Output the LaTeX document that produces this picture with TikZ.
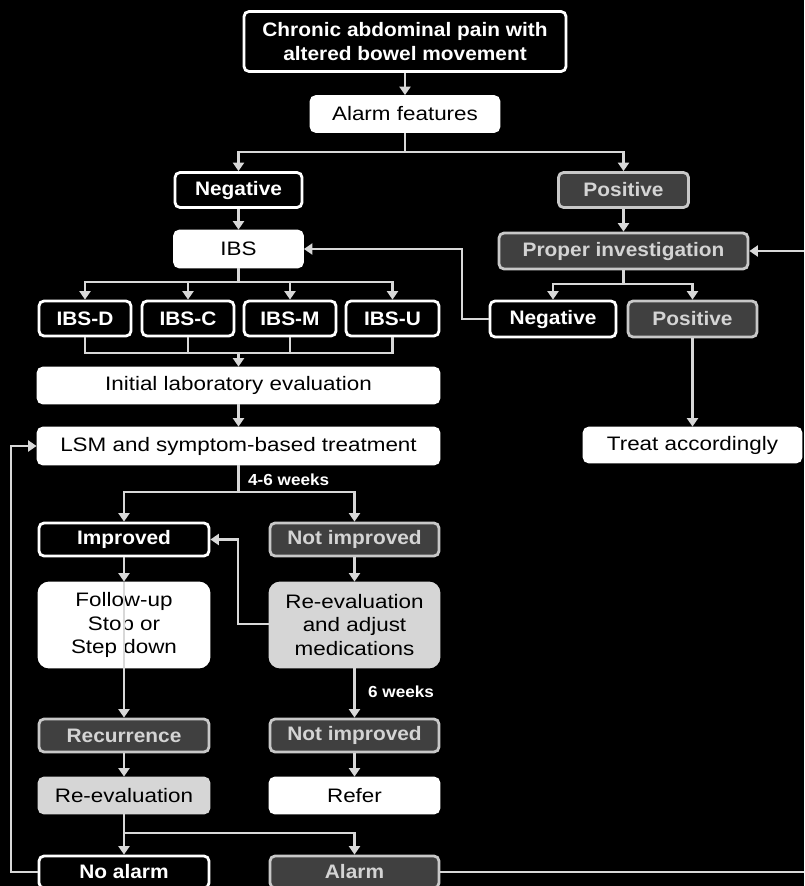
\documentclass[tikz,border=0pt]{standalone}
\usepackage{fontspec}
\setmainfont[FakeStretch=1.15]{Liberation Sans}
\newfontfamily\bfam[FakeStretch=1.07]{Liberation Sans}
\usetikzlibrary{arrows.meta}
\definecolor{lineC}{HTML}{D8D8D8}
\definecolor{darkF}{HTML}{404040}
\definecolor{darkB}{HTML}{C8C8C8}
\definecolor{darkT}{HTML}{D4D4D4}
\definecolor{lightF}{HTML}{D6D6D6}
\tikzset{
  box/.style={rectangle, rounded corners=5pt, line width=2.8pt, inner sep=0pt, align=center},
  blk/.style={box, draw=white, fill=black, text=white, font=\bfam\bfseries\fontsize{19.5}{23.5}\selectfont},
  dk/.style={box, draw=darkB, fill=darkF, text=darkT, font=\bfam\bfseries\fontsize{19.5}{23.5}\selectfont},
  wht/.style={box, draw=white, fill=white, text=black, font=\fontsize{19.5}{23.5}\selectfont},
  lgt/.style={box, draw=lightF, fill=lightF, text=black, font=\fontsize{19.5}{23.5}\selectfont},
  ln/.style={draw=lineC, line width=2.9pt},
  arr/.style={ln, -{Triangle[length=8.5pt,width=11pt]}},
  lbl/.style={text=white, font=\bfam\bfseries\fontsize{16}{19}\selectfont, inner sep=0pt}
}
\begin{document}
\begin{tikzpicture}[x=1pt,y=-1pt]
\fill[black] (0,0) rectangle (804,886);
\useasboundingbox (0,0) rectangle (804,886);

% nodes
\node[blk, minimum width=322pt, minimum height=60pt] (top) at (405,41.5) {Chronic abdominal pain with\\altered bowel movement};
\node[wht, minimum width=188pt, minimum height=35pt] (alarm) at (405,114) {Alarm features};
\node[blk, minimum width=127pt, minimum height=35pt] (neg1) at (238.5,190) {Negative};
\node[dk, minimum width=130pt, minimum height=35pt] (pos1) at (623.5,190) {Positive};
\node[wht, minimum width=128pt, minimum height=36pt] (ibs) at (238.5,249) {IBS};
\node[dk, minimum width=249pt, minimum height=36pt] (pinv) at (623.5,251) {Proper investigation};
\node[blk, minimum width=126pt, minimum height=36pt] (neg2) at (553,319) {Negative};
\node[dk, minimum width=129pt, minimum height=36pt] (pos2) at (692.5,319) {Positive};
\node[blk, minimum width=92pt, minimum height=35pt] (ibsD) at (85,318.5) {IBS-D};
\node[blk, minimum width=92pt, minimum height=35pt] (ibsC) at (188,318.5) {IBS-C};
\node[blk, minimum width=92pt, minimum height=35pt] (ibsM) at (290,318.5) {IBS-M};
\node[blk, minimum width=93pt, minimum height=35pt] (ibsU) at (392.5,318.5) {IBS-U};
\node[wht, minimum width=401pt, minimum height=35pt] (lab) at (238.5,385.5) {Initial laboratory evaluation};
\node[wht, minimum width=401pt, minimum height=36pt] (lsm) at (238.5,446) {LSM and symptom-based treatment};
\node[wht, minimum width=217pt, minimum height=34pt] (treat) at (692.5,445) {Treat accordingly};
\node[blk, minimum width=170pt, minimum height=33pt] (impr) at (124,539.5) {Improved};
\node[dk, minimum width=169pt, minimum height=33pt] (notimp) at (354.5,539.5) {Not improved};
\node[wht, rounded corners=10pt, minimum width=170pt, minimum height=84pt] (follow) at (124,625) {Follow-up\\Stop or\\Step down};
\node[lgt, rounded corners=10pt, minimum width=169pt, minimum height=84pt] (radj) at (354.5,625) {Re-evaluation\\and adjust\\medications};
\node[dk, minimum width=170pt, minimum height=33pt] (rec) at (124,735.5) {Recurrence};
\node[dk, minimum width=169pt, minimum height=33pt] (notimp2) at (354.5,735.5) {Not improved};
\node[lgt, minimum width=170pt, minimum height=35pt] (reev) at (124,795.5) {Re-evaluation};
\node[wht, minimum width=169pt, minimum height=35pt] (refer) at (354.5,795.5) {Refer};
\node[blk, minimum width=170pt, minimum height=32pt] (noal) at (124,872) {No alarm};
\node[dk, minimum width=169pt, minimum height=32pt] (al) at (354.5,872) {Alarm};

\node[lbl, anchor=west] (w46) at (248,480) {4-6 weeks};
\node[lbl, anchor=west] (w6) at (368,692) {6 weeks};

% coordinates
\coordinate (b1) at (405,152);
\coordinate (b2) at (623.5,284);
\coordinate (ib) at (238.5,282);
\coordinate (mrg) at (238.5,353);
\coordinate (b3) at (238.5,492);
\coordinate (b4) at (124,833);
\coordinate (nl) at (238,624);
\coordinate (lx) at (11,872);
\coordinate (ly) at (11,446);
\coordinate (rA) at (804,872);
\coordinate (rB) at (804,251);
\coordinate (nx) at (462,319);

% connectors
\draw[arr] (top.south) -- (alarm.north);
\draw[ln] (alarm.south) -- (b1);
\draw[arr] (b1) -| (neg1.north);
\draw[arr] (b1) -| (pos1.north);
\draw[arr] (neg1.south) -- (ibs.north);
\draw[arr] (pos1.south) -- (pinv.north);
\draw[ln] (pinv.south) -- (b2);
\draw[arr] (b2) -| (neg2.north);
\draw[arr] (b2) -| (pos2.north);
\draw[arr] (neg2.west) -- (nx) |- (ibs.east);
\draw[arr] (pos2.south) -- (treat.north);
\draw[ln] (ibs.south) -- (ib);
\draw[arr] (ib) -| (ibsD.north);
\draw[arr] (ib) -| (ibsC.north);
\draw[arr] (ib) -| (ibsM.north);
\draw[arr] (ib) -| (ibsU.north);
\draw[ln] (ibsD.south) |- (mrg);
\draw[ln] (ibsU.south) |- (mrg);
\draw[ln] (ibsC.south) -- (ibsC.south |- mrg);
\draw[ln] (ibsM.south) -- (ibsM.south |- mrg);
\draw[arr] (mrg) -- (lab.north);
\draw[arr] (lab.south) -- (lsm.north);
\draw[ln] (lsm.south) -- (b3);
\draw[arr] (b3) -| (impr.north);
\draw[arr] (b3) -| (notimp.north);
\draw[arr] (impr.south) -- (follow.north);
\draw[arr] (follow.north) -- (rec.north);
\draw[arr] (notimp.south) -- (radj.north);
\draw[arr] (radj.west |- nl) -- (nl) |- (impr.east);
\draw[arr] (radj.south) -- (notimp2.north);
\draw[arr] (notimp2.south) -- (refer.north);
\draw[arr] (rec.south) -- (reev.north);
\draw[ln] (reev.south) -- (b4);
\draw[arr] (b4) -- (noal.north);
\draw[arr] (b4) -| (al.north);
\draw[arr] (noal.west) -- (lx) -- (ly) -- (lsm.west);
\draw[ln] (al.east) -- (rA);
\draw[arr] (rB) -- (pinv.east);
\end{tikzpicture}
\end{document}
